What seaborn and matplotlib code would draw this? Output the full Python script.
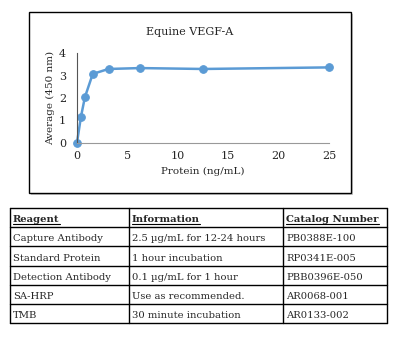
import matplotlib
matplotlib.use("Agg")
import matplotlib.pyplot as plt
import seaborn as sns
import pandas as pd
from matplotlib.patches import Rectangle
from matplotlib.lines import Line2D

# Standard curve data
protein = [0, 0.39, 0.78, 1.56, 3.125, 6.25, 12.5, 25]
average = [0.02, 1.16, 2.03, 3.07, 3.29, 3.33, 3.29, 3.36]

# Reagent table
table_header = ["Reagent", "Information", "Catalog Number"]
reagents = ["Capture Antibody", "Standard Protein", "Detection Antibody", "SA-HRP", "TMB"]
information = ["2.5 µg/mL for 12-24 hours", "1 hour incubation", "0.1 µg/mL for 1 hour",
               "Use as recommended.", "30 minute incubation"]
catalog = ["PB0388E-100", "RP0341E-005", "PBB0396E-050", "AR0068-001", "AR0133-002"]

sns.set_style("white")
plt.rcParams['font.family'] = ['DejaVu Serif']

W, H = 398, 356
fig = plt.figure(figsize=(W / 100, H / 100), dpi=100)

# overlay in pixel coords for box + table
bg = fig.add_axes([0, 0, 1, 1])
bg.set_xlim(0, W)
bg.set_ylim(H, 0)
bg.axis("off")

# chart box with shadow
bg.add_patch(Rectangle((31, 14), 322, 181, facecolor="#c8c8c8", edgecolor="none"))
bg.add_patch(Rectangle((29, 12), 322, 181, facecolor="white", edgecolor="black", lw=1))

# chart axes
ax = fig.add_axes([77 / W, 1 - 143 / H, (329 - 77) / W, (143 - 53) / H])
df = pd.DataFrame({"Protein": protein, "Average": average})
sns.lineplot(data=df, x="Protein", y="Average", ax=ax, color="#5B9BD5", lw=1.8,
             marker="o", markersize=5.5, markeredgecolor="#5B9BD5")
ax.set_xlim(0, 25)
ax.set_ylim(0, 4)
ax.set_xticks([0, 5, 10, 15, 20, 25])
ax.set_yticks([0, 1, 2, 3, 4])
ax.tick_params(axis="x", labelsize=8, length=0, pad=6)
ax.tick_params(axis="y", labelsize=8, length=0, pad=8)
for s in ["top", "right"]:
    ax.spines[s].set_visible(False)
ax.spines["left"].set_color("#555555")
ax.spines["bottom"].set_color("#999999")
ax.set_xlabel("Protein (ng/mL)", fontsize=7.5, labelpad=4)
ax.set_ylabel("Average (450 nm)", fontsize=7.5, labelpad=3)
ax.patch.set_alpha(0)
for l in ax.lines:
    l.set_clip_on(False)
bg.text(190, 32, "Equine VEGF-A", fontsize=8, ha="center", va="center")

# table
cols = [10, 129, 283, 387]
rows = [208, 227, 246, 266, 285, 304, 323]
for y in rows:
    bg.add_line(Line2D([cols[0], cols[-1]], [y, y], color="black", lw=1))
for x in cols:
    bg.add_line(Line2D([x, x], [rows[0], rows[-1]], color="black", lw=1))

header_texts = []
for j, h in enumerate(table_header):
    t = bg.text(cols[j] + 3, rows[1] - 5, h, fontsize=7.2,
                fontweight="bold", ha="left", va="baseline")
    header_texts.append(t)
for i in range(len(reagents)):
    yb = rows[i + 2] - 5
    for j, val in enumerate([reagents[i], information[i], catalog[i]]):
        bg.text(cols[j] + 3, yb, val, fontsize=7.2, ha="left", va="baseline")

# underline headers
fig.canvas.draw()
r = fig.canvas.get_renderer()
inv = bg.transData.inverted()
for t in header_texts:
    bb = t.get_window_extent(r)
    (x0, _), (x1, _) = inv.transform([(bb.x0, bb.y0), (bb.x1, bb.y1)])
    yb = t.get_position()[1] + 1.5
    bg.add_line(Line2D([x0, x1], [yb, yb], color="black", lw=0.8))

fig.savefig("out.png", dpi=100)
